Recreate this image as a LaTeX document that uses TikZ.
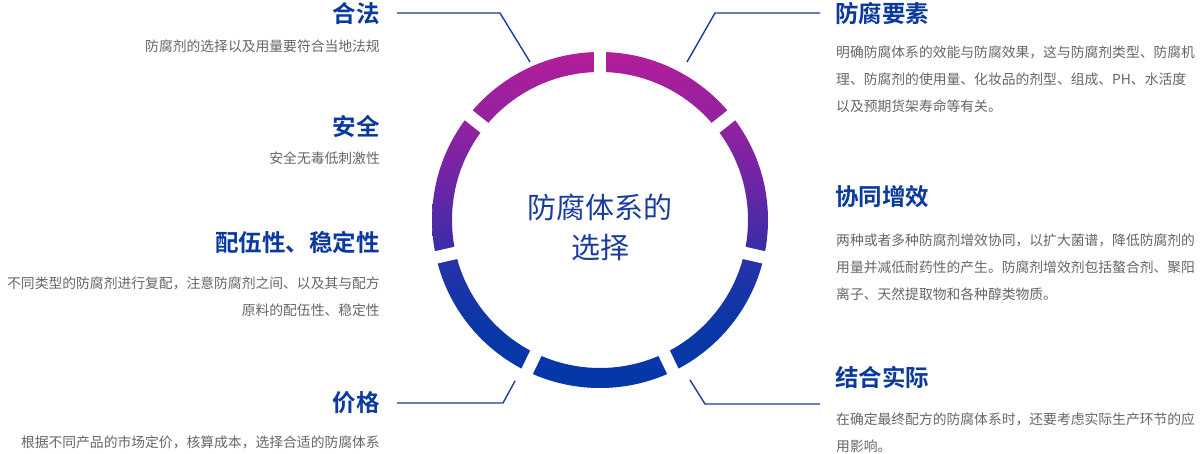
\documentclass[tikz,border=0pt]{standalone}
\usepackage{fontspec}
\setmainfont{Noto Sans CJK SC}[BoldFont={Noto Sans CJK SC Bold}]
\usetikzlibrary{calc}
\definecolor{ttlblue}{HTML}{0B3A9E}
\definecolor{ctrblue}{HTML}{1A3CA0}
\definecolor{dgray}{HTML}{666666}
\definecolor{lineblue}{HTML}{1A3C9C}
\definecolor{rcA}{HTML}{B21E9A}
\definecolor{rcB}{HTML}{8E22A0}
\definecolor{rcC}{HTML}{6826A6}
\definecolor{rcD}{HTML}{402CA6}
\definecolor{rcE}{HTML}{2532A8}
\definecolor{rcF}{HTML}{0C37A8}
\definecolor{rcG}{HTML}{0437A8}
\pgfdeclareverticalshading{ringshade}{100bp}{%
  color(0bp)=(rcG); color(25bp)=(rcG); color(35bp)=(rcF); color(43.3bp)=(rcE);
  color(47bp)=(rcD); color(54.5bp)=(rcC); color(63.4bp)=(rcB);
  color(75bp)=(rcA); color(100bp)=(rcA)}
\tikzset{
  ttl/.style={inner sep=0pt, text=ttlblue, font=\fontsize{23.5}{28}\selectfont\bfseries},
  lttl/.style={ttl, anchor=east},
  rttl/.style={ttl, anchor=west},
  dsc/.style={inner sep=0pt, text=dgray, font=\fontsize{13.8}{27}\selectfont},
  ldsc/.style={dsc, anchor=north east, align=right},
  rdsc/.style={dsc, anchor=north west, align=left},
  conn/.style={draw=lineblue, line width=1.4pt},
  gapline/.style={white, line width=12.5pt},
}
\begin{document}
\begin{tikzpicture}[x=1pt,y=1pt]
\useasboundingbox (0,0) rectangle (1200,453);
\fill[white] (0,0) rectangle (1200,453);

% ring
\coordinate (c) at (600,233);
\shade[shading=ringshade, even odd rule]
  (c) circle[radius=168pt] (c) circle[radius=148pt];
\foreach \k in {0,...,6}{
  \draw[gapline] ($(c)+({90+\k*360/7}:140pt)$) -- ($(c)+({90+\k*360/7}:176pt)$);
}
\node[inner sep=0pt, text=ctrblue, align=center, font=\fontsize{29}{40}\selectfont] (ctr) at (600,226) {防腐体系的\\选择};

% left side
\node[lttl] (hefa) at (380,439) {合法};
\node[ldsc] (hefad) at (380,413) {防腐剂的选择以及用量要符合当地法规};
\node[lttl] (anquan) at (380,327) {安全};
\node[ldsc] (anquand) at (380,301) {安全无毒低刺激性};
\node[lttl] (peiwu) at (380,211) {配伍性、稳定性};
\node[ldsc] (peiwud) at (380,176) {不同类型的防腐剂进行复配，注意防腐剂之间、以及其与配方\\原料的配伍性、稳定性};
\node[lttl] (jiage) at (380,50) {价格};
\node[ldsc] (jiaged) at (380,17) {根据不同产品的市场定价，核算成本，选择合适的防腐体系};

% right side
\node[rttl] (yaosu) at (835,439) {防腐要素};
\node[rdsc] (yaosud) at (836,407) {明确防腐体系的效能与防腐效果，这与防腐剂类型、防腐机\\理、防腐剂的使用量、化妆品的剂型、组成、PH、水活度\\以及预期货架寿命等有关。};
\node[rttl] (xietong) at (835,256) {协同增效};
\node[rdsc] (xietongd) at (836,219) {两种或者多种防腐剂增效协同，以扩大菌谱，降低防腐剂的\\用量并减低耐药性的产生。防腐剂增效剂包括螯合剂、聚阳\\离子、天然提取物和各种醇类物质。};
\node[rttl] (jiehe) at (835,76) {结合实际};
\node[rdsc] (jiehed) at (836,40) {在确定最终配方的防腐体系时，还要考虑实际生产环节的应\\用影响。};

% connectors
\coordinate (hfB) at (500,440);
\coordinate (hfC) at (530,391);
\draw[conn] ([xshift=17pt]hefa.east |- hfB) -- (hfB) -- (hfC);
\coordinate (ysB) at (715,440);
\coordinate (ysC) at (687,391);
\draw[conn] ([xshift=-15pt]yaosu.west |- ysB) -- (ysB) -- (ysC);
\coordinate (jgB) at (503,50);
\coordinate (jgC) at (515,72);
\draw[conn] ([xshift=17pt]jiage.east |- jgB) -- (jgB) -- (jgC);
\coordinate (jsB) at (705,49);
\coordinate (jsC) at (690,73);
\draw[conn] ([xshift=-15pt]jiehe.west |- jsB) -- (jsB) -- (jsC);
\end{tikzpicture}
\end{document}
